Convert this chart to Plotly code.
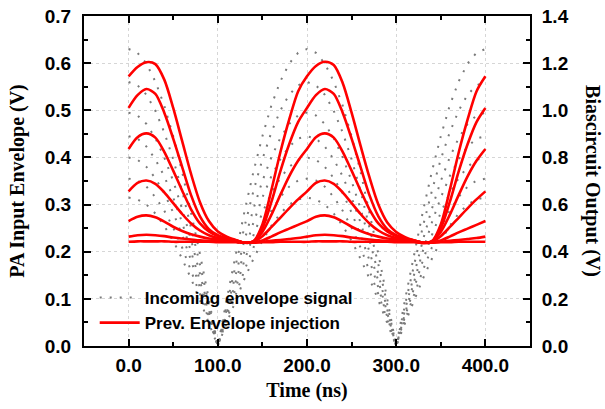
import plotly.graph_objects as go

# time axis (ns)
time_ns = [0, 10, 20, 30, 40, 50, 60, 70, 80, 90, 100, 110, 120, 130, 140, 150, 160, 170, 180, 190, 200,
           210, 220, 230, 240, 250, 260, 270, 280, 290, 300, 310, 320, 330, 340, 350, 360, 370, 380, 390, 400]

# incoming envelope signals (V), dotted grey
env_1 = [0.630, 0.622, 0.599, 0.561, 0.510, 0.445, 0.370, 0.286, 0.195, 0.099, 0.000, 0.099, 0.195, 0.286, 0.370, 0.445, 0.510, 0.561, 0.599, 0.622, 0.630,
         0.622, 0.599, 0.561, 0.510, 0.445, 0.370, 0.286, 0.195, 0.099, 0.000, 0.099, 0.195, 0.286, 0.370, 0.445, 0.510, 0.561, 0.599, 0.622, 0.630]
env_2 = [0.560, 0.553, 0.533, 0.499, 0.453, 0.396, 0.329, 0.254, 0.173, 0.088, 0.000, 0.088, 0.173, 0.254, 0.329, 0.396, 0.453, 0.499, 0.533, 0.553, 0.560,
         0.553, 0.533, 0.499, 0.453, 0.396, 0.329, 0.254, 0.173, 0.088, 0.000, 0.088, 0.173, 0.254, 0.329, 0.396, 0.453, 0.499, 0.533, 0.553, 0.560]
env_3 = [0.495, 0.489, 0.471, 0.441, 0.400, 0.350, 0.291, 0.225, 0.153, 0.077, 0.000, 0.077, 0.153, 0.225, 0.291, 0.350, 0.400, 0.441, 0.471, 0.489, 0.495,
         0.489, 0.471, 0.441, 0.400, 0.350, 0.291, 0.225, 0.153, 0.077, 0.000, 0.077, 0.153, 0.225, 0.291, 0.350, 0.400, 0.441, 0.471, 0.489, 0.495]
env_4 = [0.445, 0.440, 0.423, 0.396, 0.360, 0.315, 0.262, 0.202, 0.138, 0.070, 0.000, 0.070, 0.138, 0.202, 0.262, 0.315, 0.360, 0.396, 0.423, 0.440, 0.445,
         0.440, 0.423, 0.396, 0.360, 0.315, 0.262, 0.202, 0.138, 0.070, 0.000, 0.070, 0.138, 0.202, 0.262, 0.315, 0.360, 0.396, 0.423, 0.440, 0.445]
env_5 = [0.400, 0.395, 0.380, 0.356, 0.324, 0.283, 0.235, 0.182, 0.124, 0.063, 0.000, 0.063, 0.124, 0.182, 0.235, 0.283, 0.324, 0.356, 0.380, 0.395, 0.400,
         0.395, 0.380, 0.356, 0.324, 0.283, 0.235, 0.182, 0.124, 0.063, 0.000, 0.063, 0.124, 0.182, 0.235, 0.283, 0.324, 0.356, 0.380, 0.395, 0.400]
env_6 = [0.355, 0.351, 0.338, 0.316, 0.287, 0.251, 0.209, 0.161, 0.110, 0.056, 0.000, 0.056, 0.110, 0.161, 0.209, 0.251, 0.287, 0.316, 0.338, 0.351, 0.355,
         0.351, 0.338, 0.316, 0.287, 0.251, 0.209, 0.161, 0.110, 0.056, 0.000, 0.056, 0.110, 0.161, 0.209, 0.251, 0.287, 0.316, 0.338, 0.351, 0.355]
env_7 = [0.315, 0.311, 0.300, 0.281, 0.255, 0.223, 0.185, 0.143, 0.097, 0.049, 0.000, 0.049, 0.097, 0.143, 0.185, 0.223, 0.255, 0.281, 0.300, 0.311, 0.315,
         0.311, 0.300, 0.281, 0.255, 0.223, 0.185, 0.143, 0.097, 0.049, 0.000, 0.049, 0.097, 0.143, 0.185, 0.223, 0.255, 0.281, 0.300, 0.311, 0.315]

# previous-envelope injection outputs (V), solid red
inj_1 = [0.572, 0.592, 0.602, 0.598, 0.565, 0.505, 0.435, 0.365, 0.305, 0.265, 0.243, 0.232, 0.225, 0.219, 0.222, 0.258, 0.330, 0.410, 0.480, 0.540, 0.572,
         0.594, 0.603, 0.596, 0.558, 0.495, 0.425, 0.358, 0.300, 0.262, 0.242, 0.231, 0.224, 0.218, 0.222, 0.258, 0.330, 0.410, 0.480, 0.540, 0.572]
inj_2 = [0.505, 0.532, 0.545, 0.535, 0.495, 0.440, 0.380, 0.320, 0.275, 0.248, 0.235, 0.228, 0.224, 0.219, 0.222, 0.250, 0.305, 0.370, 0.428, 0.475, 0.505,
         0.532, 0.545, 0.535, 0.495, 0.440, 0.380, 0.320, 0.275, 0.248, 0.235, 0.228, 0.224, 0.219, 0.222, 0.250, 0.305, 0.370, 0.428, 0.475, 0.505]
inj_3 = [0.418, 0.443, 0.451, 0.442, 0.412, 0.372, 0.330, 0.290, 0.260, 0.243, 0.233, 0.228, 0.224, 0.219, 0.222, 0.242, 0.278, 0.320, 0.360, 0.393, 0.418,
         0.443, 0.451, 0.442, 0.412, 0.372, 0.330, 0.290, 0.260, 0.243, 0.233, 0.228, 0.224, 0.219, 0.222, 0.242, 0.278, 0.320, 0.360, 0.393, 0.418]
inj_4 = [0.328, 0.346, 0.351, 0.344, 0.326, 0.303, 0.280, 0.260, 0.245, 0.235, 0.229, 0.226, 0.223, 0.219, 0.221, 0.233, 0.252, 0.272, 0.292, 0.311, 0.328,
         0.346, 0.351, 0.344, 0.326, 0.303, 0.280, 0.260, 0.245, 0.235, 0.229, 0.226, 0.223, 0.219, 0.221, 0.233, 0.252, 0.272, 0.292, 0.311, 0.328]
inj_5 = [0.265, 0.274, 0.277, 0.273, 0.264, 0.253, 0.244, 0.237, 0.232, 0.228, 0.226, 0.224, 0.222, 0.219, 0.220, 0.224, 0.232, 0.241, 0.249, 0.257, 0.265,
         0.274, 0.277, 0.273, 0.264, 0.253, 0.244, 0.237, 0.232, 0.228, 0.226, 0.224, 0.222, 0.219, 0.220, 0.224, 0.232, 0.241, 0.249, 0.257, 0.265]
inj_6 = [0.232, 0.235, 0.236, 0.235, 0.233, 0.230, 0.228, 0.226, 0.224, 0.223, 0.222, 0.222, 0.221, 0.219, 0.220, 0.221, 0.223, 0.225, 0.227, 0.229, 0.232,
         0.235, 0.236, 0.235, 0.233, 0.230, 0.228, 0.226, 0.224, 0.223, 0.222, 0.222, 0.221, 0.219, 0.220, 0.221, 0.223, 0.225, 0.227, 0.229, 0.232]
inj_7 = [0.221, 0.222, 0.222, 0.222, 0.222, 0.221, 0.221, 0.221, 0.221, 0.221, 0.220, 0.220, 0.220, 0.219, 0.219, 0.220, 0.220, 0.221, 0.221, 0.221, 0.221,
         0.222, 0.222, 0.222, 0.222, 0.221, 0.221, 0.221, 0.221, 0.221, 0.220, 0.220, 0.220, 0.219, 0.219, 0.220, 0.220, 0.221, 0.221, 0.221, 0.221]

envelopes = [env_1, env_2, env_3, env_4, env_5, env_6, env_7]
injections = [inj_1, inj_2, inj_3, inj_4, inj_5, inj_6, inj_7]

left_ticks = [0.0, 0.1, 0.2, 0.3, 0.4, 0.5, 0.6, 0.7]
right_ticks = [0.0, 0.2, 0.4, 0.6, 0.8, 1.0, 1.2, 1.4]
x_ticks = [0, 100, 200, 300, 400]

fig = go.Figure()

for i, env in enumerate(envelopes):
    fig.add_trace(go.Scatter(
        x=time_ns, y=env, mode="lines",
        line=dict(color="#7a7a7a", width=2, dash="2px,8px"),
        name="Incoming envelope signal", legendgroup="env",
        showlegend=(i == 0),
    ))

for i, inj in enumerate(injections):
    fig.add_trace(go.Scatter(
        x=time_ns, y=inj, mode="lines",
        line=dict(color="#ff0000", width=2.6, shape="spline", smoothing=0.8),
        name="Prev. Envelope injection", legendgroup="inj",
        showlegend=(i == 0),
    ))

# invisible helper trace to activate right axis
fig.add_trace(go.Scatter(x=[time_ns[0]], y=[right_ticks[0]], yaxis="y2", mode="markers",
                         marker=dict(opacity=0), showlegend=False, hoverinfo="skip"))

tick_font = dict(family="Liberation Sans, Arial", size=19, color="black", weight="bold")
title_font = dict(family="Liberation Serif, Times New Roman", size=20, color="black", weight="bold")

fig.update_layout(
    width=605, height=409,
    margin=dict(l=84, r=75, t=16, b=63, autoexpand=False),
    paper_bgcolor="white", plot_bgcolor="white",
    showlegend=True,
    legend=dict(
        x=0.024, y=0.2, xanchor="left", yanchor="top",
        bgcolor="rgba(0,0,0,0)",
        font=dict(family="Liberation Sans, Arial", size=17, color="black", weight="bold"),
        tracegroupgap=0, itemwidth=40,
    ),
    xaxis=dict(
        range=[-50, 450], tickvals=x_ticks, tickformat=".1f", automargin=False,
        ticks="inside", ticklen=7, tickwidth=2, tickcolor="black",
        minor=dict(ticks="inside", ticklen=4, tickwidth=2, dtick=50, tick0=0, tickcolor="black", showgrid=False),
        showline=True, linecolor="black", linewidth=2, mirror="ticks",
        showgrid=True, gridcolor="#d6d6d6", griddash="dot", gridwidth=1,
        zeroline=False, tickfont=tick_font, ticklabelstandoff=1,
        title=dict(text="Time (ns)", font=title_font, standoff=8),
    ),
    yaxis=dict(
        range=[0, 0.7], tickvals=left_ticks, tickformat=".1f", automargin=False,
        ticks="inside", ticklen=7, tickwidth=2, tickcolor="black",
        minor=dict(ticks="inside", ticklen=4, tickwidth=2, dtick=0.05, tick0=0, tickcolor="black", showgrid=False),
        showline=True, linecolor="black", linewidth=2,
        showgrid=True, gridcolor="#d6d6d6", griddash="dot", gridwidth=1,
        zeroline=False, tickfont=tick_font, ticklabelstandoff=7,
        title=dict(text="PA Input Envelope (V)", font=title_font, standoff=15),
    ),
    yaxis2=dict(
        range=[0, 1.4], tickvals=right_ticks, tickformat=".1f", automargin=False,
        overlaying="y", side="right",
        ticks="inside", ticklen=7, tickwidth=2, tickcolor="black",
        minor=dict(ticks="inside", ticklen=4, tickwidth=2, dtick=0.1, tick0=0, tickcolor="black", showgrid=False),
        showline=True, linecolor="black", linewidth=2,
        showgrid=False, zeroline=False, tickfont=tick_font, ticklabelstandoff=6,
    ),
    annotations=[dict(
        text="Biascircuit Output (V)", textangle=90,
        xref="paper", yref="paper", x=1.141, y=0.5, xanchor="center", yanchor="middle",
        showarrow=False, font=title_font,
    )],
)

fig.write_html("out.html")
